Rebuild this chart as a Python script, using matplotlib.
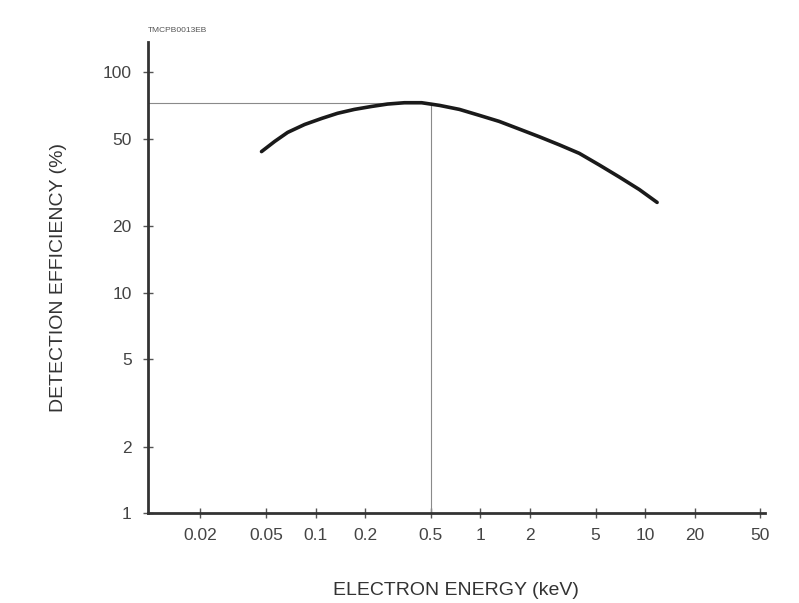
import matplotlib
matplotlib.use('Agg')
import matplotlib.pyplot as plt
from matplotlib.ticker import FixedLocator, FixedFormatter, NullLocator

plt.rcParams['font.family'] = ['Liberation Sans', 'DejaVu Sans']

# values
energy_kev = [0.047, 0.0565, 0.0677, 0.0858, 0.109, 0.136, 0.172, 0.218, 0.273,
              0.346, 0.44, 0.565, 0.746, 0.986, 1.30, 1.72, 2.28, 3.01, 3.98,
              5.26, 6.96, 9.2, 11.8]
efficiency = [43.7, 48.6, 53.4, 58.0, 61.8, 65.2, 67.9, 70.0, 71.8,
              72.8, 72.8, 70.8, 67.9, 63.8, 59.9, 55.3, 51.0, 46.9, 42.9,
              38.0, 33.5, 29.4, 25.7]
peak_x = 0.5
peak_y = 72.5

x_ticks = [0.02, 0.05, 0.1, 0.2, 0.5, 1, 2, 5, 10, 20, 50]
x_labels = ['0.02', '0.05', '0.1', '0.2', '0.5', '1', '2', '5', '10', '20', '50']
y_ticks = [1, 2, 5, 10, 20, 50, 100]
y_labels = ['1', '2', '5', '10', '20', '50', '100']

fig = plt.figure(figsize=(7.99, 6.03), dpi=100)
ax = fig.add_axes([0.185, 0.149, 0.772, 0.781])

ax.set_xscale('log')
ax.set_yscale('log')
ax.set_xlim(0.0096, 53)
ax.set_ylim(1, 137)

# guide lines to the peak
ax.plot([0.0096, peak_x], [peak_y, peak_y], color='#8a8a8a', lw=0.8)
ax.plot([peak_x, peak_x], [1, peak_y], color='#8a8a8a', lw=0.8)

ax.plot(energy_kev, efficiency, color='#1a1a1a', lw=2.6,
        solid_capstyle='round', solid_joinstyle='round')

for s in ['top', 'right']:
    ax.spines[s].set_visible(False)
for s in ['left', 'bottom']:
    ax.spines[s].set_color('#333333')
    ax.spines[s].set_linewidth(2)

ax.xaxis.set_major_locator(FixedLocator(x_ticks))
ax.xaxis.set_major_formatter(FixedFormatter(x_labels))
ax.xaxis.set_minor_locator(NullLocator())
ax.yaxis.set_major_locator(FixedLocator(y_ticks))
ax.yaxis.set_major_formatter(FixedFormatter(y_labels))
ax.yaxis.set_minor_locator(NullLocator())
ax.tick_params(direction='inout', length=7, width=1, color='#555555',
               labelsize=12.5, labelcolor='#444444')
ax.tick_params(axis='x', pad=7)
ax.tick_params(axis='y', pad=8)

ax.set_xlabel('ELECTRON ENERGY (keV)', fontsize=14, color='#333333', labelpad=28)
ax.set_ylabel('DETECTION EFFICIENCY (%)', fontsize=14, color='#333333', labelpad=26)

fig.text(0.185, 0.947, 'TMCPB0013EB', fontsize=6, color='#555555')

fig.savefig('out.png', dpi=100)
